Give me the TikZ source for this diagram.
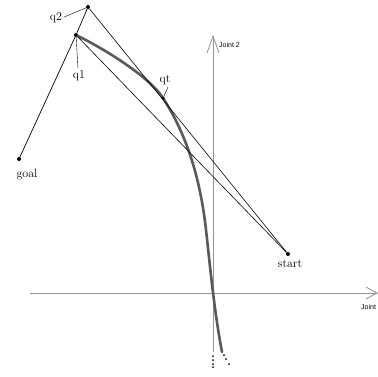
\documentclass[tikz,border=0pt]{standalone}
\usepackage{fontspec}
\newfontfamily\axisfont{Liberation Sans}
\begin{document}
\begin{tikzpicture}[x=1pt,y=-1pt,
  pt/.style={circle,fill=black,inner sep=0pt,minimum size=4pt},
  lbl/.style={font=\fontsize{12}{14}\selectfont,inner sep=0pt},
  axlbl/.style={font=\axisfont\fontsize{7}{8}\selectfont,inner sep=0pt},
  axis/.style={draw=gray!85,line width=0.8pt},
  link/.style={draw=black,line width=0.7pt},
  path/.style={draw=black!65,line width=2.6pt,line cap=round},
  smalldot/.style={circle,fill=black,inner sep=0pt,minimum size=2pt}]
\useasboundingbox (0,0) rectangle (378,376);
% axes
\coordinate (vtop) at (213,36);
\coordinate (vbot) at (213,352);
\coordinate (hleft) at (30,293);
\coordinate (hright) at (377,293);
\draw[axis] (vbot) -- (vtop);
\draw[axis] (207,53) -- (vtop) -- (219,53);
\draw[axis] (hleft) -- (hright);
\draw[axis] (366,287) -- (hright) -- (366,299);
\node[axlbl,anchor=west] (j2) at (219,45) {Joint 2};
\node[axlbl,anchor=west] (j1) at (361,307) {Joint};
% points
\node[pt] (q2) at (88,7) {};
\node[pt] (q1) at (76,35) {};
\node[pt] (goal) at (19,159) {};
\node[pt] (start) at (288,254) {};
% thick path
\draw[path] (q1) .. controls (110,52) and (150,78) .. (163,98)
  .. controls (185,132) and (200,175) .. (206,230)
  .. controls (210,265) and (214,310) .. (222,352);
\node[pt,minimum size=3.5pt] (qt) at (163,98) {};
% links
\draw[link] (goal) -- (q1) -- (q2);
\draw[link,line width=0.6pt] (q2) -- (start);
\draw[link,line width=0.6pt] (q1) -- (start);
% labels
\node[lbl] (q2l) at (56,18) {q2};
\node[lbl] (q1l) at (79,76) {q1};
\node[lbl] (qtl) at (165,80) {qt};
\node[lbl] (goall) at (27,175) {goal};
\node[lbl] (startl) at (290,264) {start};
\draw[line width=0.4pt] (q2l.east) ++(2,-1) -- (q2);
\draw[line width=0.4pt] (q1) -- (78,68);
\draw[line width=0.4pt] (168,87) .. controls (166,92) .. (qt);
% dots at bottom
\foreach \i/\y in {1/356,2/360,3/364,4/367}{
  \node[smalldot] (vd\i) at (213,\y) {};
}
\foreach \i/\x/\y in {1/224/355,2/226/359,3/229/364}{
  \node[smalldot] (cd\i) at (\x,\y) {};
}
\end{tikzpicture}
\end{document}
